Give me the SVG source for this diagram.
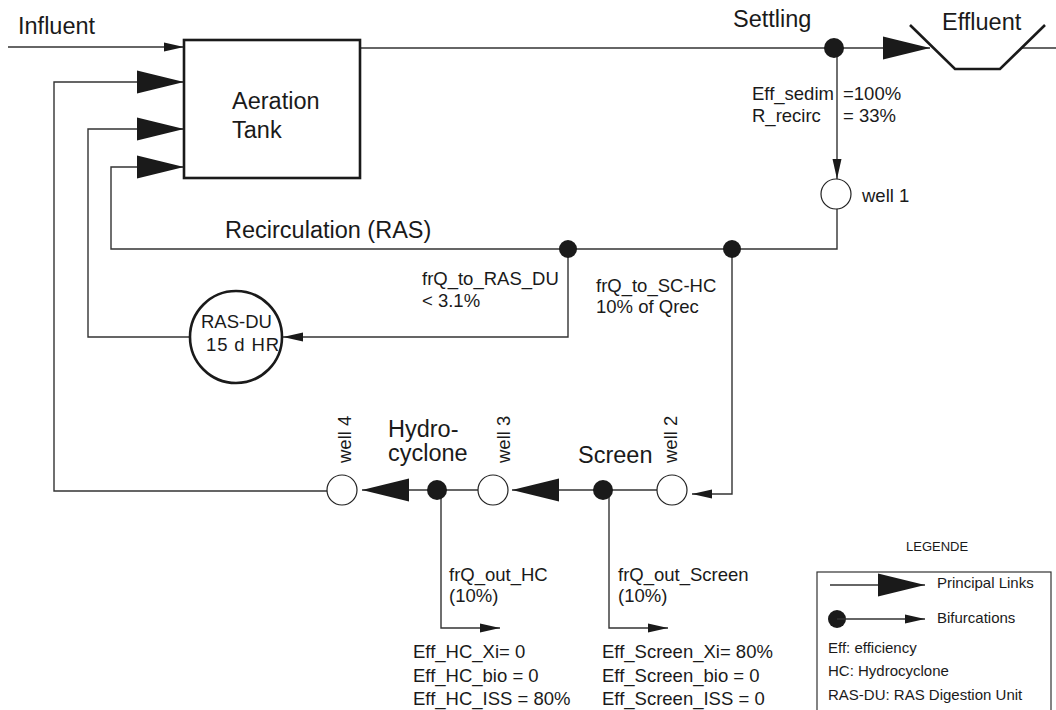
<svg xmlns="http://www.w3.org/2000/svg" width="1056" height="710" viewBox="0 0 1056 710">
<defs>
<style>
text{font-family:"Liberation Sans",Arial,sans-serif;fill:#1a1a1a}
.lg{font-size:23.5px}
.md{font-size:18.5px}
.sm{font-size:15px}
.xs{font-size:13px}
.ln{fill:none;stroke:#333;stroke-width:1.4}
.big{marker-end:url(#big)}
.small{marker-end:url(#small)}
.well{fill:#fff;stroke:#222;stroke-width:1.2}
.dot{fill:#1a1a1a}
.thick{fill:none;stroke:#1a1a1a;stroke-width:2.6}
</style>
<marker id="big" markerUnits="userSpaceOnUse" markerWidth="47" markerHeight="24" refX="47" refY="12" orient="auto">
<path d="M0,0.5 L47,12 L0,23.5 Z" fill="#1a1a1a"/>
</marker>
<marker id="small" markerUnits="userSpaceOnUse" markerWidth="20" markerHeight="10" refX="20" refY="5" orient="auto">
<path d="M0,0.5 L20,5 L0,9.5 Z" fill="#1a1a1a"/>
</marker>
</defs>
<rect width="1056" height="710" fill="#fff"/>

<g id="connectors">
<path class="ln small" d="M8,47 H184"/>
<path class="ln" d="M360,48 H834"/>
<path class="ln big" d="M834,48 H930"/>
<path class="ln" d="M1022,48 H1056"/>
<path class="ln small" d="M837,48 V179"/>
<path class="ln big" d="M837,209 V249 H111 V167 H184"/>
<path class="ln small" d="M568,249 V337 H283"/>
<path class="ln big" d="M190,337 H88 V129 H184"/>
<path class="ln small" d="M732,249 V494 H692"/>
<path class="ln" d="M657,490 H603"/>
<path class="ln big" d="M603,490 H512"/>
<path class="ln" d="M478,490 H437"/>
<path class="ln big" d="M437,490 H362"/>
<path class="ln big" d="M327,491 H54 V82 H184"/>
<path class="ln small" d="M441,490 V628 H500"/>
<path class="ln small" d="M609,490 V628 H668"/>
</g>

<g id="influent-label"><text class="lg" x="18" y="34">Influent</text></g>

<g id="aeration-tank">
<rect class="thick" x="184" y="40" width="176" height="138"/>
<text class="lg" x="232" y="109">Aeration</text>
<text class="lg" x="232" y="138">Tank</text>
</g>

<g id="settling">
<circle class="dot" cx="834" cy="48" r="10"/>
<text class="lg" x="733" y="27">Settling</text>
<text class="md" x="752" y="100">Eff_sedim</text>
<text class="md" x="752" y="122">R_recirc</text>
<text class="md" x="843" y="100">=100%</text>
<text class="md" x="843" y="122">= 33%</text>
</g>

<g id="effluent">
<path class="thick" d="M910,25 L955,69 L1000,69 L1045,25"/>
<text class="lg" x="942" y="30">Effluent</text>
</g>

<g id="well1">
<circle class="well" cx="836" cy="194" r="15"/>
<text class="md" x="862" y="202">well 1</text>
</g>

<g id="recirculation">
<text class="lg" x="225" y="238">Recirculation (RAS)</text>
<circle class="dot" cx="568" cy="249" r="9"/>
<circle class="dot" cx="732" cy="249" r="9"/>
<text class="md" x="422" y="285">frQ_to_RAS_DU</text>
<text class="md" x="422" y="307">&lt; 3.1%</text>
<text class="md" x="596" y="292">frQ_to_SC-HC</text>
<text class="md" x="596" y="313">10% of Qrec</text>
</g>

<g id="ras-du">
<circle cx="236" cy="337" r="46" fill="#fff" stroke="#1a1a1a" stroke-width="2.6"/>
<text class="md" x="201" y="328">RAS-DU</text>
<text class="md" x="206" y="351" textLength="73">15 d HR</text>
</g>

<g id="well2">
<circle class="well" cx="672" cy="490" r="15"/>
<text class="md" transform="translate(677,463) rotate(-90)">well 2</text>
</g>

<g id="screen">
<circle class="dot" cx="603" cy="490" r="10"/>
<text class="lg" x="578" y="463">Screen</text>
<text class="md" x="618" y="581">frQ_out_Screen</text>
<text class="md" x="618" y="602">(10%)</text>
<text class="md" x="602" y="658">Eff_Screen_Xi= 80%</text>
<text class="md" x="602" y="682">Eff_Screen_bio = 0</text>
<text class="md" x="602" y="705">Eff_Screen_ISS = 0</text>
</g>

<g id="well3">
<circle class="well" cx="493" cy="490" r="15"/>
<text class="md" transform="translate(510,463) rotate(-90)">well 3</text>
</g>

<g id="hydrocyclone">
<circle class="dot" cx="437" cy="490" r="10"/>
<text class="lg" x="388" y="437">Hydro-</text>
<text class="lg" x="388" y="461">cyclone</text>
<text class="md" x="449" y="581">frQ_out_HC</text>
<text class="md" x="449" y="602">(10%)</text>
<text class="md" x="413" y="658">Eff_HC_Xi= 0</text>
<text class="md" x="413" y="682">Eff_HC_bio = 0</text>
<text class="md" x="413" y="705">Eff_HC_ISS = 80%</text>
</g>

<g id="well4">
<circle class="well" cx="342" cy="490" r="15"/>
<text class="md" transform="translate(351,463) rotate(-90)">well 4</text>
</g>

<g id="legend">
<text class="xs" x="906" y="551">LEGENDE</text>
<rect x="817" y="572" width="234" height="145" fill="none" stroke="#333" stroke-width="1.2"/>
<path class="ln big" d="M830,585 H925"/>
<text class="sm" x="937" y="588">Principal Links</text>
<circle class="dot" cx="837" cy="619" r="9"/>
<path class="ln small" d="M837,619 H925"/>
<text class="sm" x="937" y="623">Bifurcations</text>
<text class="sm" x="828" y="653">Eff: efficiency</text>
<text class="sm" x="828" y="676">HC: Hydrocyclone</text>
<text class="sm" x="828" y="700">RAS-DU: RAS Digestion Unit</text>
</g>
</svg>
